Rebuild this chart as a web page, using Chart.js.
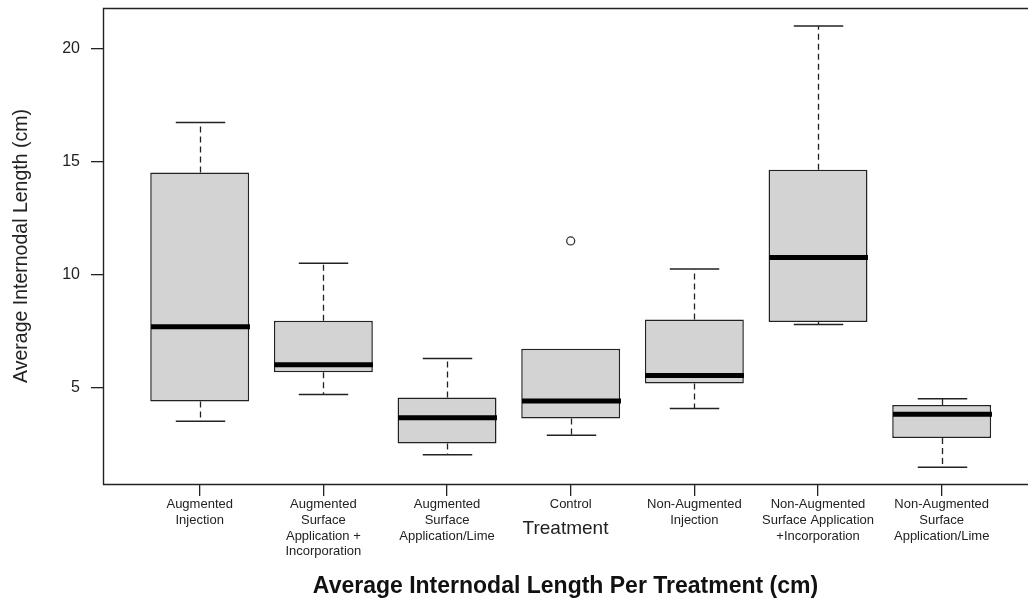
<!DOCTYPE html>
<html>
<head>
<meta charset="utf-8">
<script src="https://cdn.jsdelivr.net/npm/chart.js@4.4.1/dist/chart.umd.min.js"></script>
<style>
  html, body { margin: 0; padding: 0; background: #fff; }
  #wrap { width: 1028px; height: 601px; }
</style>
</head>
<body>
<div id="wrap"><canvas id="chart" width="1028" height="601"></canvas></div>
<script>
// treatments, in plot order
var categories = [
    ['Augmented', 'Injection'],
    ['Augmented', 'Surface', 'Application +', 'Incorporation'],
    ['Augmented', 'Surface', 'Application/Lime'],
    ['Control'],
    ['Non-Augmented', 'Injection'],
    ['Non-Augmented', 'Surface Application', '+Incorporation'],
    ['Non-Augmented', 'Surface', 'Application/Lime']
];
// five number summaries (cm)
var whiskerLow  = [3.51, 4.69, 2.02, 2.89, 4.07, 7.79, 1.47];
var q1          = [4.38, 5.68, 2.52, 3.63, 5.18, 7.90, 2.77];
var median      = [7.69, 6.01, 3.66, 4.40, 5.53, 10.76, 3.82];
var q3          = [14.52, 7.96, 4.56, 6.72, 8.01, 14.64, 4.23];
var whiskerHigh = [16.73, 10.50, 6.29, 6.72, 10.25, 21.00, 4.50];
// outliers
var outlierGroup = [4];
var outlierValue = [11.49];
var yTicks = [5, 10, 15, 20];

Chart.defaults.font.family = "'Liberation Sans', Arial, sans-serif";
Chart.defaults.color = '#222';

var boxData = [];
for (var i = 0; i < categories.length; i++) {
    boxData.push({ x: i + 1, y: [q1[i], q3[i]] });
}
var outData = [];
for (var j = 0; j < outlierGroup.length; j++) {
    outData.push({ x: outlierGroup[j], y: outlierValue[j] });
}

function seg(ctx, x1, y1, x2, y2) {
    ctx.beginPath();
    ctx.moveTo(x1, y1);
    ctx.lineTo(x2, y2);
    ctx.stroke();
}

function noPad(s) {
    s.paddingTop = 0;
    s.paddingBottom = 0;
    s.paddingLeft = 0;
    s.paddingRight = 0;
}

var boxParts = {
    id: 'boxParts',
    afterDatasetsDraw: function (chart) {
        var ctx = chart.ctx;
        var xs = chart.scales.x;
        var ys = chart.scales.y;
        var unit = xs.getPixelForValue(2) - xs.getPixelForValue(1);
        ctx.save();
        ctx.lineCap = 'butt';
        for (var i = 0; i < categories.length; i++) {
            var cx = Math.round(xs.getPixelForValue(i + 1)) + 0.5;
            var half = unit * 0.4;
            var cap = unit * 0.2;
            var yHi = ys.getPixelForValue(whiskerHigh[i]);
            var yLo = ys.getPixelForValue(whiskerLow[i]);
            var yQ1 = ys.getPixelForValue(q1[i]);
            var yQ3 = ys.getPixelForValue(q3[i]);
            var yMed = ys.getPixelForValue(median[i]);

            ctx.strokeStyle = '#222';
            ctx.lineWidth = 1.3;
            ctx.setLineDash([6, 4]);
            if (yHi < yQ3) seg(ctx, cx, yQ3, cx, yHi);
            if (yLo > yQ1) seg(ctx, cx, yQ1, cx, yLo);
            ctx.setLineDash([]);
            ctx.lineWidth = 1.5;
            if (whiskerHigh[i] > q3[i]) seg(ctx, cx - cap, yHi, cx + cap, yHi);
            seg(ctx, cx - cap, yLo, cx + cap, yLo);

            ctx.strokeStyle = '#000';
            ctx.lineWidth = 5;
            seg(ctx, cx - half, yMed, cx + half, yMed);
        }
        ctx.restore();
    },
    afterDraw: function (chart) {
        // plot frame; its right side falls outside the picture
        var a = chart.chartArea;
        var ctx = chart.ctx;
        var l = Math.round(a.left) + 0.5, t = Math.round(a.top) + 0.5, b = Math.round(a.bottom) + 0.5;
        ctx.save();
        ctx.strokeStyle = '#222';
        ctx.lineWidth = 1.4;
        ctx.beginPath();
        ctx.moveTo(a.right + 2, t);
        ctx.lineTo(l, t);
        ctx.lineTo(l, b);
        ctx.lineTo(a.right + 2, b);
        ctx.stroke();
        ctx.restore();
    }
};

new Chart(document.getElementById('chart').getContext('2d'), {
    type: 'bar',
    data: {
        datasets: [{
            type: 'bar',
            data: boxData,
            backgroundColor: '#d3d3d3',
            borderColor: '#222',
            borderWidth: 1.5,
            borderSkipped: false,
            categoryPercentage: 1,
            barPercentage: 0.8
        }, {
            type: 'scatter',
            data: outData,
            pointRadius: 4,
            pointBackgroundColor: 'rgba(0,0,0,0)',
            pointBorderColor: '#333',
            pointBorderWidth: 1.3
        }]
    },
    options: {
        responsive: false,
        animation: false,
        layout: { autoPadding: false, padding: { top: 8, right: 0, bottom: 0, left: 0 } },
        plugins: {
            legend: { display: false },
            tooltip: { enabled: false },
            title: {
                display: true,
                position: 'bottom',
                fullSize: false,
                text: 'Average Internodal Length Per Treatment (cm)',
                color: '#111',
                font: { size: 23, weight: 'bold' },
                padding: { top: 0, bottom: 1 }
            }
        },
        scales: {
            x: {
                type: 'linear',
                offset: false,
                min: 0.218,
                max: 7.698,
                afterBuildTicks: function (s) {
                    s.ticks = categories.map(function (c, k) { return { value: k + 1 }; });
                },
                afterFit: function (s) { s.height = 88.4; noPad(s); },
                ticks: {
                    autoSkip: false,
                    maxRotation: 0,
                    padding: 1,
                    color: '#222',
                    font: { size: 13, lineHeight: 1.2 },
                    callback: function (v) { return categories[v - 1]; }
                },
                grid: { offset: false, drawOnChartArea: false, drawTicks: true, tickLength: 12, color: '#222', lineWidth: 1.3 },
                border: { display: false },
                title: {
                    display: true,
                    text: 'Treatment',
                    color: '#222',
                    font: { size: 19 },
                    padding: { top: 0, bottom: 32 }
                }
            },
            y: {
                min: 0.73,
                max: 21.8,
                afterBuildTicks: function (s) {
                    s.ticks = yTicks.map(function (v) { return { value: v }; });
                },
                afterFit: function (s) { s.width = 103; noPad(s); },
                ticks: { padding: 11, color: '#222', font: { size: 16 } },
                grid: { drawOnChartArea: false, drawTicks: true, tickLength: 12, color: '#222', lineWidth: 1.3 },
                border: { display: false },
                title: {
                    display: true,
                    text: 'Average Internodal Length (cm)',
                    color: '#222',
                    font: { size: 19.5 },
                    padding: { top: 10, bottom: 0 }
                }
            }
        }
    },
    plugins: [boxParts]
});
</script>
</body>
</html>
